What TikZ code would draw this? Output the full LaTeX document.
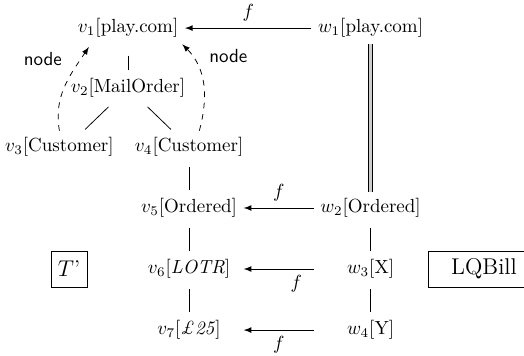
\documentclass[tikz,border=0pt]{standalone}
\usepackage{tikz}

\begin{document}
\begin{tikzpicture}[>=latex,
  link/.style={shorten <=2pt, shorten >=1pt},
  box/.style={draw, minimum height=0.67cm, font=\large},
  lbl/.style={font=\sffamily}]

\useasboundingbox (0,0) rectangle (9.70,-6.59);

\begin{scope}
  \node (v1) at (2.37,-0.52)  {$v_1$[play.com]};
  \node (v2) at (2.37,-1.63)  {$v_2$[MailOrder]};
  \node (v3) at (1.10,-2.72)  {$v_3$[Customer]};
  \node (v4) at (3.50,-2.72)  {$v_4$[Customer]};
  \node (v5) at (3.50,-3.85)  {$v_5$[Ordered]};
  \node (v6) at (3.50,-4.98)  {$v_6$[\textit{LOTR}]};
  \node (v7) at (3.50,-6.11)  {$v_7$[\textit{\pounds25}]};
\end{scope}

\begin{scope}
  \node (w1) at (6.86,-0.52)  {$w_1$[play.com]};
  \node (w2) at (6.86,-3.85)  {$w_2$[Ordered]};
  \node (w3) at (6.86,-4.98)  {$w_3$[X]};
  \node (w4) at (6.86,-6.11)  {$w_4$[Y]};
\end{scope}

\node[box, minimum width=0.67cm] (tp) at (1.28,-4.98) {$T$'};
\node[box, minimum width=2.05cm] (lq) at (8.96,-4.98) {LQBill};

% tree edges
\draw[link, shorten <=6pt] (v1) -- (v2);
\draw[link] (v2) -- ([xshift=0.45cm]v3.north);
\draw[link] (v2) -- (v4);
\draw[link] (v4) -- (v5);
\draw[link] (v5) -- (v6);
\draw[link] (v6) -- (v7);
\draw[link] (w2) -- (w3);
\draw[link] (w3) -- (w4);
\draw[double=gray!40, double distance=1.8pt] (w1) -- (w2);

% the map f
\draw[->] (w1) -- node[above] {$f$} (v1);
\draw[->] (w2) -- node[above] {$f$} (v5);
\draw[->] (w3 -| w2.west) -- node[below, pos=0.25] {$f$} (v6 -| v5.east);
\draw[->] (w4 -| w2.west) -- node[below] {$f$} (v7 -| v5.east);

\draw[->, dashed] (v3.north) to[out=100, in=-124]
  node[lbl, pos=0.85, left=0.22cm] {node} ([xshift=0.33cm, yshift=-0.05cm]v1.south west);
\draw[->, dashed] ([xshift=0.19cm]v4.north) to[out=75, in=-45]
  node[lbl, pos=0.85, right=0.2cm] {node} ([xshift=-0.05cm]v1.south east);

\end{tikzpicture}
\end{document}
